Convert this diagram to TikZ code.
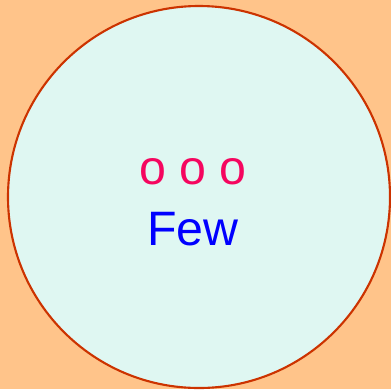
\documentclass[tikz,border=0pt]{standalone}
\usepackage{fontspec}
\setmainfont{Liberation Sans}
\definecolor{fwback}{HTML}{FFC48A}
\definecolor{fwfill}{HTML}{DFF7F2}
\definecolor{fwedge}{HTML}{CC3300}
\definecolor{fwdots}{HTML}{F5065F}
\definecolor{fwtext}{HTML}{0000FF}
\begin{document}
\begin{tikzpicture}[x=0.02cm, y=-0.02cm]
  \fill[fwback] (0,0) rectangle (391,389);
  \useasboundingbox (0,0) rectangle (391,389);
  \draw[fill=fwfill, draw=fwedge, line width=1.2pt]
    (199,197) circle[radius=191];
  \node[text=fwdots, font=\fontsize{27.5}{30}\selectfont]
    (dots) at (193,172) {o o o};
  \node[text=fwtext, font=\fontsize{27.5}{30}\selectfont]
    (few) at (193,229) {Few};
\end{tikzpicture}
\end{document}
